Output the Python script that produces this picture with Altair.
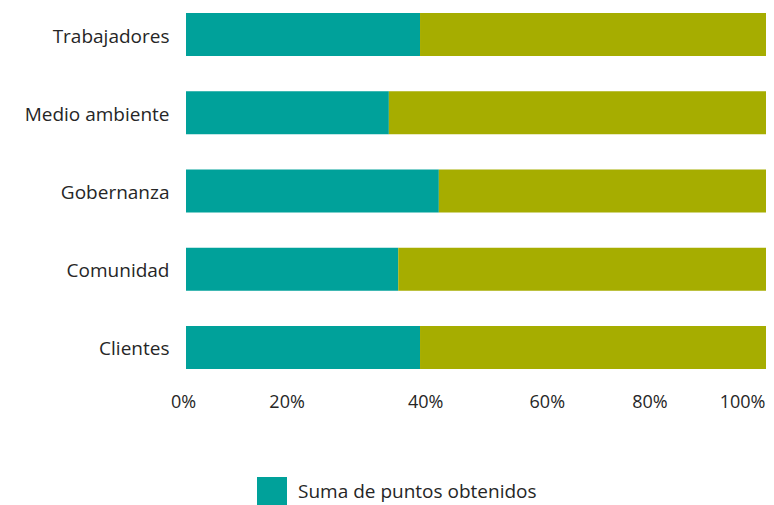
import altair as alt
import pandas as pd

categorias = ["Trabajadores", "Medio ambiente", "Gobernanza", "Comunidad", "Clientes"]
obtenidos = [39.8, 34.5, 43.0, 36.1, 39.8]
restantes = [60.2, 65.5, 57.0, 63.9, 60.2]
series = ["Suma de puntos obtenidos", "Puntos restantes"]
ticks = [0, 20, 40, 60, 80, 100]

rows = []
for c, a, b in zip(categorias, obtenidos, restantes):
    rows.append({"cat": c, "serie": series[0], "valor": a, "orden": 0})
    rows.append({"cat": c, "serie": series[1], "valor": b, "orden": 1})
df = pd.DataFrame(rows)

FONT = "Open Sans"
TXT = "#262626"

chart = alt.Chart(df).mark_bar().encode(
    y=alt.Y("cat:N", sort=categorias, title=None,
            scale=alt.Scale(paddingInner=0.45, paddingOuter=0.064),
            axis=alt.Axis(labelFontSize=19, labelFont=FONT, labelColor=TXT,
                          labelPadding=17, labelOffset=2, ticks=False, tickSize=0,
                          domain=False, labelLimit=300)),
    x=alt.X("valor:Q", stack="zero", title=None,
            scale=alt.Scale(domain=[0, 100], nice=False, range=[0, 588]),
            axis=alt.Axis(values=ticks, labelExpr="datum.value + '%'",
                          labelFontSize=18, labelFont=FONT, labelColor=TXT,
                          labelPadding=19, ticks=False, tickSize=0, domain=False, grid=False,
                          labelAlign={"condition": {"test": "datum.value == 100", "value": "right"}, "value": "center"},
                          labelOffset={"condition": [
                              {"test": "datum.value == 0", "value": -3},
                              {"test": "datum.value == 20", "value": -17},
                              {"test": "datum.value == 40", "value": 4},
                              {"test": "datum.value == 60", "value": 8},
                              {"test": "datum.value == 80", "value": -7},
                              {"test": "datum.value == 100", "value": -9}], "value": 0})),
    color=alt.Color("serie:N", scale=alt.Scale(domain=series, range=["#00A19A", "#A6AD00"]),
                    legend=alt.Legend(values=[series[0]], title=None, orient="none",
                                      legendX=71, legendY=469, symbolType="square",
                                      symbolSize=900, symbolStrokeWidth=0, symbolOpacity=1,
                                      labelFontSize=19, labelFont=FONT, labelColor=TXT,
                                      labelOffset=11, labelLimit=400)),
    order=alt.Order("orden:Q"),
).properties(
    width=580, height=366,
    autosize=alt.AutoSizeParams(type="none"),
    padding={"left": 178, "top": 0, "right": 0, "bottom": 131},
).configure_view(stroke=None)

chart.save("out.html", embed_options={"renderer": "svg", "actions": False})
